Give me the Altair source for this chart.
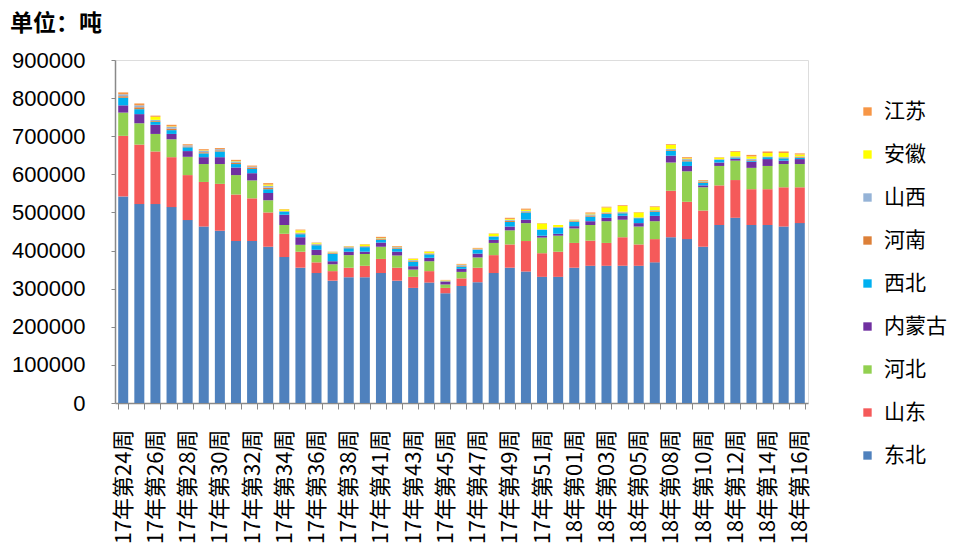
import altair as alt
import pandas as pd

weeks17 = list(range(24, 40)) + list(range(41, 53))
weeks18 = list(range(1, 7)) + list(range(8, 17))
categories = [f"17年第{w:02d}周" for w in weeks17] + [f"18年第{w:02d}周" for w in weeks18]
shown_labels = categories[::2]

series_names = ["东北", "山东", "河北", "内蒙古", "西北", "河南", "山西", "安徽", "江苏"]
series_colors = ["#4F81BD", "#F55A5A", "#92D050", "#7030A0", "#00B0F0", "#DD8038", "#95B3D7", "#FFFF00", "#F79646"]

dongbei = [542,522,522,514,480,463,452,425,425,410,383,355,341,321,330,330,341,321,302,316,288,307,317,341,355,345,331,331,355,360,360,360,360,369,435,430,410,467,486,467,467,463,472]
shandong = [159,156,138,131,118,117,123,122,112,90,61,42,28,25,25,30,37,34,29,30,14,20,38,47,61,80,62,66,65,66,60,75,56,61,122,98,95,104,99,94,94,103,94]
hebei = [61,56,46,47,48,47,52,51,47,32,23,18,19,18,33,31,32,32,19,26,9,17,27,32,37,47,41,42,38,41,57,46,47,47,74,80,61,51,51,56,61,61,61]
neimenggu = [19,24,24,14,15,18,18,20,19,19,27,20,14,8,9,6,11,10,9,9,7,8,10,8,10,9,5,5,6,10,9,10,9,14,18,14,5,9,5,16,18,9,13]
xibei = [20,13,8,10,10,10,15,9,11,10,8,8,12,19,9,12,7,8,12,9,1,6,10,8,12,19,15,16,11,12,10,7,13,11,13,12,7,7,3,3,5,6,3]
henan = [4,5,2,4,2,3,3,3,3,4,1,2,2,2,2,2,2,2,2,2,1,2,1,1,3,2,1,1,2,3,2,2,1,2,2,3,2,1,1,2,1,1,2]
shanxi = [5,5,3,5,3,4,3,4,3,5,1,2,2,2,2,1,2,2,2,1,1,2,1,1,3,2,1,1,2,3,2,2,1,2,3,3,2,1,2,3,1,2,2]
anhui = [0,0,8,1,0,1,0,1,0,3,4,6,2,1,1,4,1,1,3,4,1,1,1,6,2,3,15,5,1,2,13,15,13,8,10,2,1,4,12,6,9,11,5]
jiangsu = [5,5,3,4,3,3,3,3,3,4,1,2,1,1,1,1,3,2,1,1,1,2,2,1,3,3,1,0,1,3,2,2,1,2,2,3,2,1,2,4,4,4,3]

series_values = [dongbei, shandong, hebei, neimenggu, xibei, henan, shanxi, anhui, jiangsu]

rows = []
for si, (name, vals) in enumerate(zip(series_names, series_values)):
    for cat, v in zip(categories, vals):
        rows.append({"week": cat, "region": name, "value": v * 1000, "stack": si})
df = pd.DataFrame(rows)

legend_order = series_names[::-1]
legend_colors = series_colors[::-1]

label_list = "[" + ",".join(f"'{c}'" for c in shown_labels) + "]"

chart = alt.Chart(df).mark_bar(size=10).encode(
    x=alt.X("week:N", sort=categories, title=None,
            scale=alt.Scale(paddingInner=0.38, paddingOuter=0.2),
            axis=alt.Axis(labelAngle=270, labelFont="Noto Sans CJK SC", labelFontSize=22,
                          labelColor="#000000", tickBand="extent", tickSize=6,
                          tickColor="#898989", domainColor="#898989", domainWidth=1.5,
                          labelPadding=20, labelLimit=200,
                          labelExpr=f"indexof({label_list}, datum.value) >= 0 ? datum.label : ''")),
    y=alt.Y("value:Q", title=None, stack="zero",
            scale=alt.Scale(domain=[0, 900000], nice=False),
            axis=alt.Axis(values=list(range(0, 900001, 100000)), format="d", grid=False,
                          labelFont="Liberation Sans", labelFontSize=22, labelColor="#000000",
                          tickSize=4, tickColor="#898989", domainColor="#898989", domainWidth=1.5,
                          labelPadding=26)),
    color=alt.Color("region:N", scale=alt.Scale(domain=legend_order, range=legend_colors),
                    legend=alt.Legend(title=None, orient="none", legendX=742, legendY=41,
                                      symbolType="square", symbolSize=70, symbolStrokeWidth=0,
                                      labelFont="Noto Sans CJK SC", labelFontSize=21,
                                      labelColor="#000000", rowPadding=21, labelOffset=6)),
    order=alt.Order("stack:Q", sort="ascending"),
).properties(
    width=693, height=343,
    title=alt.TitleParams("单位：吨", anchor="start", frame="group", dx=-105, dy=-9,
                          font="Noto Sans CJK SC", fontSize=23, fontWeight="bold", color="#000000"),
    autosize=alt.AutoSizeParams(type="none"),
    padding={"left": 107, "top": 52, "right": 140, "bottom": 140},
).configure_view(stroke=None).configure(background="#FFFFFF")

chart.save("out.html", embed_options={"renderer": "svg", "actions": False})
